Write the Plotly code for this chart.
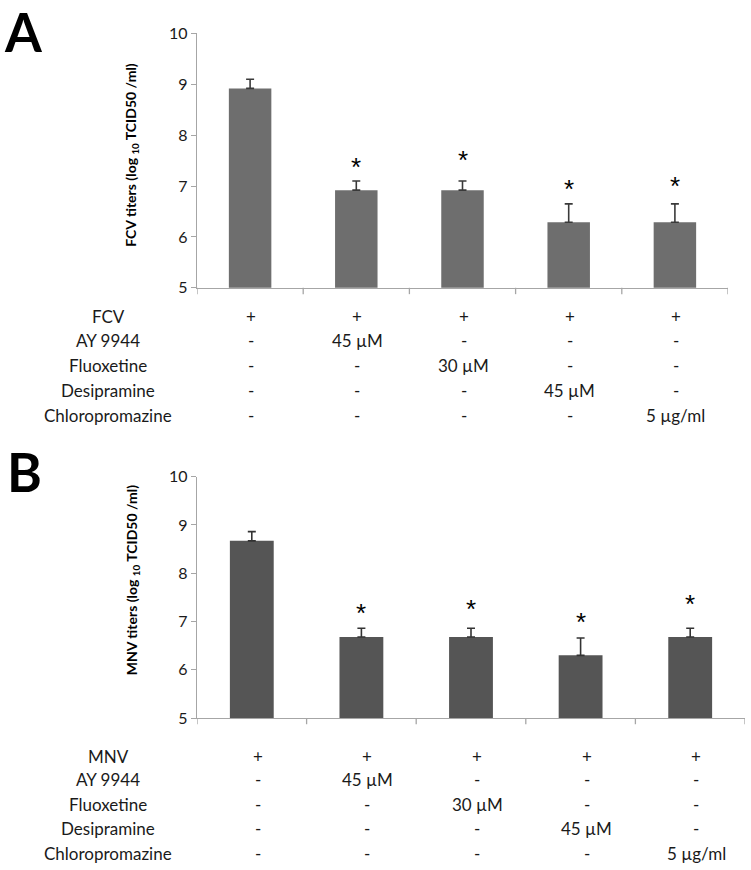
import plotly.graph_objects as go

W, H = 751, 870

groups = ["1", "2", "3", "4", "5"]

fcv_titer = [8.92, 6.92, 6.92, 6.29, 6.29]
fcv_err = [0.18, 0.18, 0.18, 0.36, 0.36]
fcv_star_y = [None, 7.50, 7.63, 7.06, 7.12]

mnv_titer = [8.67, 6.68, 6.68, 6.30, 6.68]
mnv_err = [0.19, 0.18, 0.18, 0.36, 0.18]
mnv_star_y = [None, 7.31, 7.39, 7.11, 7.49]

row_labels_a = ["FCV", "AY 9944", "Fluoxetine", "Desipramine", "Chloropromazine"]
row_labels_b = ["MNV", "AY 9944", "Fluoxetine", "Desipramine", "Chloropromazine"]
treatments = [
    ["+", "+", "+", "+", "+"],
    ["-", "45 µM", "-", "-", "-"],
    ["-", "-", "30 µM", "-", "-"],
    ["-", "-", "-", "45 µM", "-"],
    ["-", "-", "-", "-", "5 µg/ml"],
]

y_ticks = [5, 6, 7, 8, 9, 10]

FONT = "Lato, 'Open Sans', sans-serif"
AXIS_COL = "#a6a6a6"

xpos = list(range(len(groups)))


def py(p):
    return 1 - p / H


def px(p):
    return p / W


fig = go.Figure()

fig.add_trace(go.Bar(
    x=xpos, y=fcv_titer, width=0.4, marker=dict(color="#6e6e6e", line=dict(width=0)),
    error_y=dict(type="data", symmetric=False, array=fcv_err, arrayminus=[0] * 5,
                 color="#3a3a3a", thickness=1.6, width=4),
    xaxis="x", yaxis="y", showlegend=False, hoverinfo="y"))

fig.add_trace(go.Bar(
    x=xpos, y=mnv_titer, width=0.4, marker=dict(color="#555555", line=dict(width=0)),
    error_y=dict(type="data", symmetric=False, array=mnv_err, arrayminus=[0] * 5,
                 color="#333333", thickness=1.6, width=4),
    xaxis="x2", yaxis="y2", showlegend=False, hoverinfo="y"))

axis_common = dict(showline=True, linecolor=AXIS_COL, linewidth=1.3, showgrid=False,
                   zeroline=False, fixedrange=True)

fig.update_layout(
    width=W, height=H,
    margin=dict(l=0, r=0, t=0, b=0),
    paper_bgcolor="white", plot_bgcolor="white",
    font=dict(family=FONT, color="#1a1a1a"),
    xaxis=dict(domain=[px(197), px(728)], anchor="y", range=[-0.5, 4.5],
               showticklabels=False, ticks="", **axis_common),
    yaxis=dict(domain=[py(284), py(24)], anchor="x", range=[5, 10], tickvals=y_ticks,
               ticks="outside", ticklen=5, tickcolor=AXIS_COL, tickwidth=1.3,
               tickfont=dict(size=16, family=FONT, color="#1a1a1a"), **axis_common),
    xaxis2=dict(domain=[px(197), px(745)], anchor="y2", range=[-0.5, 4.5],
                showticklabels=False, ticks="", **axis_common),
    yaxis2=dict(domain=[py(724), py(477)], anchor="x2", range=[5, 10], tickvals=y_ticks,
                ticks="outside", ticklen=5, tickcolor=AXIS_COL, tickwidth=1.3,
                tickfont=dict(size=16, family=FONT, color="#1a1a1a"), **axis_common),
)

shapes = []
# category boundary tick marks on x axes
for xr, yr in (("x", "y"), ("x2", "y2")):
    for i in range(len(groups) + 1):
        shapes.append(dict(type="line", xref=xr, yref=yr + " domain", x0=i - 0.5, x1=i - 0.5,
                           y0=0, y1=-0.025, line=dict(color=AXIS_COL, width=1.3)))
fig.update_layout(shapes=shapes)

ann = []
# panel letters
ann.append(dict(text="<b>A</b>", x=px(23), y=py(22), xref="paper", yref="paper",
                showarrow=False, font=dict(size=53, family=FONT, color="black"),
                xanchor="center", yanchor="middle"))
ann.append(dict(text="<b>B</b>", x=px(24), y=py(472), xref="paper", yref="paper",
                showarrow=False, font=dict(size=53, family=FONT, color="black"),
                xanchor="center", yanchor="middle"))
# y-axis titles
ann.append(dict(text="<b>FCV titers (log <sub>10</sub> TCID50 /ml)</b>", x=px(132), y=py(148),
                xref="paper", yref="paper", textangle=-90, showarrow=False,
                font=dict(size=14, family=FONT, color="black"), xanchor="center", yanchor="middle"))
ann.append(dict(text="<b>MNV titers (log <sub>10</sub> TCID50 /ml)</b>", x=px(132), y=py(583),
                xref="paper", yref="paper", textangle=-90, showarrow=False,
                font=dict(size=14, family=FONT, color="black"), xanchor="center", yanchor="middle"))

# significance stars
for xr, yr, stars in (("x", "y", fcv_star_y), ("x2", "y2", mnv_star_y)):
    for xp, sy in zip(xpos, stars):
        if sy is None:
            continue
        ann.append(dict(text="*", x=xp, y=sy, xref=xr, yref=yr, showarrow=False,
                        font=dict(size=26, family="'Liberation Sans', Arial, sans-serif", color="black"),
                        xanchor="center", yanchor="middle", yshift=-6))

# treatment tables
row_y_a = [313, 338, 363, 389, 415]
row_y_b = [763, 787, 812, 837, 862]
for labels, rows_y, xr, xs in ((row_labels_a, row_y_a, "x", 1), (row_labels_b, row_y_b, "x2", 6)):
    for r, (lab, ry) in enumerate(zip(labels, rows_y)):
        ann.append(dict(text=lab, x=px(108), y=py(ry), xref="paper", yref="paper",
                        showarrow=False, font=dict(size=17, family=FONT, color="#1a1a1a"),
                        xanchor="center", yanchor="middle"))
        for xp, cell in zip(xpos, treatments[r]):
            ann.append(dict(text=cell, x=xp, y=py(ry), xref=xr, yref="paper", xshift=xs,
                            showarrow=False, font=dict(size=17, family=FONT, color="#1a1a1a"),
                            xanchor="center", yanchor="middle"))

fig.update_layout(annotations=ann)

fig.write_html("out.html", config={"displayModeBar": False},
               post_script="document.body.style.margin='0px';")
